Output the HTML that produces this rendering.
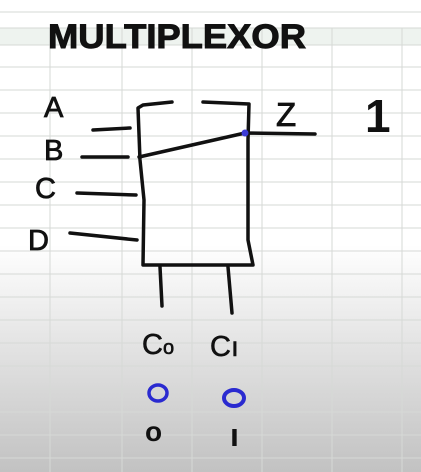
<!DOCTYPE html>
<html><head><style>
html,body{margin:0;padding:0;width:421px;height:472px;overflow:hidden}
body{background:linear-gradient(#fff 0,#fff 245px,#e2e2e2 350px,#c2c2c2 472px);position:relative}
svg{position:absolute;left:0;top:0}
</style></head><body>
<svg width="421" height="472" viewBox="0 0 421 472">
<rect x="0" y="28" width="421" height="17" fill="#eef3ef"/>
<g stroke="#d6d9d6" stroke-width="1">
<line x1="50" y1="28" x2="50" y2="472"/><line x1="122" y1="28" x2="122" y2="472"/>
<line x1="192" y1="28" x2="192" y2="472"/><line x1="262" y1="28" x2="262" y2="472"/>
<line x1="332" y1="28" x2="332" y2="472"/><line x1="402" y1="28" x2="402" y2="472"/>
<line x1="0" y1="12" x2="421" y2="12"/>
<line x1="0" y1="28" x2="421" y2="28"/><line x1="0" y1="45" x2="421" y2="45"/>
<line x1="0" y1="67" x2="421" y2="67"/><line x1="0" y1="90" x2="421" y2="90"/>
<line x1="0" y1="113" x2="421" y2="113"/><line x1="0" y1="136" x2="421" y2="136"/>
<line x1="0" y1="159" x2="421" y2="159"/><line x1="0" y1="182" x2="421" y2="182"/>
<line x1="0" y1="205" x2="421" y2="205"/><line x1="0" y1="228" x2="421" y2="228"/>
<line x1="0" y1="251" x2="421" y2="251"/><line x1="0" y1="274" x2="421" y2="274"/>
<line x1="0" y1="297" x2="421" y2="297"/><line x1="0" y1="320" x2="421" y2="320"/>
<line x1="0" y1="343" x2="421" y2="343"/><line x1="0" y1="366" x2="421" y2="366"/>
<line x1="0" y1="389" x2="421" y2="389"/><line x1="0" y1="412" x2="421" y2="412"/>
<line x1="0" y1="435" x2="421" y2="435"/><line x1="0" y1="458" x2="421" y2="458"/>
</g>
<g fill="none" stroke="#111" stroke-width="3.5" stroke-linecap="round" stroke-linejoin="round">
<path d="M172,102 L143,105 L138,108 L140,160 L144,200 L143,265 L253,265 L248,240 L248,140 L249,104 L203,102"/>
<path d="M139,157 L245,133 L315,134"/>
<path d="M93,130 L130,128"/><path d="M82,157 L128,157"/>
<path d="M77,193 L136,195"/><path d="M70,233 L137,240"/>
<path d="M160,267 L162,306"/><path d="M228,267 L232,313"/>
</g>
<circle cx="245" cy="133" r="3.5" fill="#3b3bd6"/>
<g font-family="Liberation Sans, sans-serif" fill="#111">
<text x="48" y="48" font-size="34" font-weight="bold" stroke="#111" stroke-width="1" textLength="258" lengthAdjust="spacingAndGlyphs">MULTIPLEXOR</text>
<text x="44" y="117" font-size="29" stroke="#111" stroke-width="0.8">A</text>
<text x="44" y="160" font-size="29" stroke="#111" stroke-width="0.8">B</text>
<text x="35" y="198" font-size="29" stroke="#111" stroke-width="0.8">C</text>
<text x="28" y="250" font-size="29" stroke="#111" stroke-width="0.8">D</text>
<text x="276" y="126" font-size="33" stroke="#111" stroke-width="0.8">Z</text>
<text x="365" y="132" font-size="46" font-weight="bold">1</text>
<text x="142" y="354" font-size="29" stroke="#111" stroke-width="0.6">C<tspan font-size="20">o</tspan></text>
<text x="210" y="356" font-size="29" stroke="#111" stroke-width="0.6">C<tspan font-size="28">ı</tspan></text>
<text x="145" y="441" font-size="28" font-weight="bold">o</text>
<text x="230" y="446" font-size="32" font-weight="bold">ı</text>
</g>
<ellipse cx="158" cy="393" rx="9" ry="8" fill="none" stroke="#2a2ad0" stroke-width="3.5"/>
<ellipse cx="234" cy="398" rx="10" ry="8" fill="none" stroke="#2a2ad0" stroke-width="4"/>
</svg>
</body></html>
